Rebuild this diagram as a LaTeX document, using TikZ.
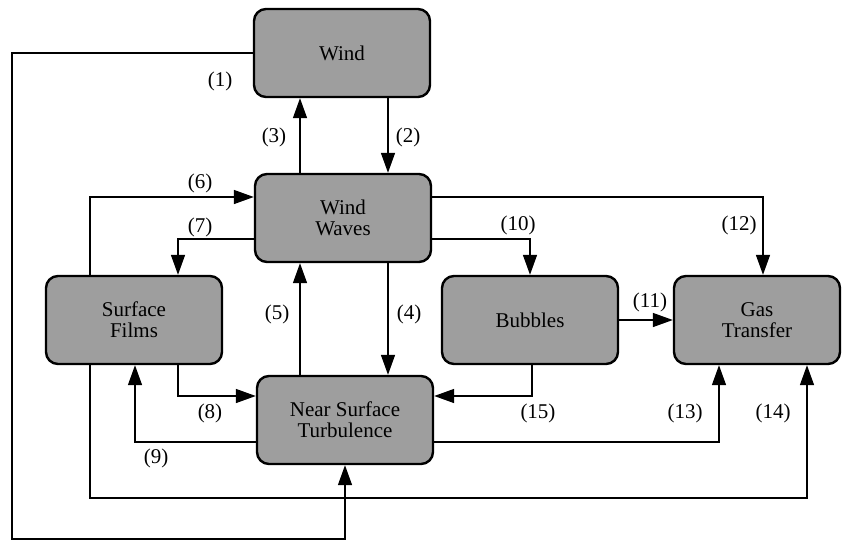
\documentclass[tikz,border=0pt]{standalone}
\usepackage{fontspec}
\setmainfont{Liberation Serif}
\usetikzlibrary{arrows.meta}

\begin{document}
\begin{tikzpicture}[x=0.5pt, y=-0.5pt,
		box/.style={draw=black, line width=1.2pt, fill=black!38, rounded corners=6pt, minimum width=88pt, minimum height=44pt, align=center, inner sep=2pt, font=\fontsize{10.5}{10.5}\selectfont},
		lbl/.style={inner sep=0pt, font=\fontsize{10.5}{12}\selectfont},
		arr/.style={line width=0.75pt, -{Triangle[length=10pt,width=7pt]}}]
				\useasboundingbox (0,0) rectangle (843,542);
				
				\node[box] (wind) at (342,53) {Wind};
				\node[box] (waves) at (343,218) {Wind\\Waves};
				\node[box] (films) at (134,320) {Surface\\Films};
				\node[box] (turb) at (345,420) {Near Surface\\Turbulence};
				\node[box] (bubbles) at (530,320) {Bubbles};
				\node[box, minimum width=83pt] (gas) at (757,320) {Gas\\Transfer};
				
				\coordinate (xa) at (300,0);
				\coordinate (xb) at (388,0);
				\coordinate (xc) at (90,0);
				\coordinate (xd) at (178,0);
				\coordinate (xe) at (135,0);
				\coordinate (xf) at (763,0);
				\coordinate (xg) at (719,0);
				\coordinate (xh) at (807,0);
				\coordinate (xi) at (532,0);
				\coordinate (ya) at (0,197);
				\coordinate (yb) at (0,239);
				\coordinate (yc) at (0,396);
				\coordinate (yd) at (0,442);
				\coordinate (ye) at (0,498);
				\coordinate (corner) at (12,539);
				
				\draw[arr] (wind.west) -| (corner) -| (turb.south);
				\draw[arr] (wind.south -| xb) -- (waves.north -| xb);
				\draw[arr] (waves.north -| xa) -- (wind.south -| xa);
				\draw[arr] (waves.south -| xb) -- (turb.north -| xb);
				\draw[arr] (turb.north -| xa) -- (waves.south -| xa);
				\draw[arr] (films.north -| xc) |- (waves.west |- ya);
				\draw[arr] (waves.west |- yb) -| (films.north -| xd);
				\draw[arr] (films.south -| xd) |- (turb.west |- yc);
				\draw[arr] (turb.west |- yd) -| (films.south -| xe);
				\draw[arr] (waves.east |- yb) -| (bubbles.north);
				\draw[arr] (bubbles.east) -- (gas.west |- bubbles.east);
				\draw[arr] (waves.east |- ya) -| (gas.north -| xf);
				\draw[arr] (turb.east |- yd) -| (gas.south -| xg);
				\draw[arr] (films.south -| xc) |- (xh |- ye) -- (gas.south -| xh);
				\draw[arr] (bubbles.south -| xi) |- (turb.east |- yc);
				
				\node[lbl] (l1) at (220,81) {(1)};
				\node[lbl] (l2) at (408,137) {(2)};
				\node[lbl] (l3) at (274,137) {(3)};
				\node[lbl] (l4) at (409,314) {(4)};
				\node[lbl] (l5) at (277,314) {(5)};
				\node[lbl] (l6) at (200,183) {(6)};
				\node[lbl] (l7) at (200,227) {(7)};
				\node[lbl] (l8) at (210,413) {(8)};
				\node[lbl] (l9) at (156,458) {(9)};
				\node[lbl] (l10) at (518,225) {(10)};
				\node[lbl] (l11) at (650,302) {(11)};
				\node[lbl] (l12) at (739,225) {(12)};
				\node[lbl] (l13) at (685,413) {(13)};
				\node[lbl] (l14) at (773,413) {(14)};
				\node[lbl] (l15) at (538,413) {(15)};
			\end{tikzpicture}
\end{document}
